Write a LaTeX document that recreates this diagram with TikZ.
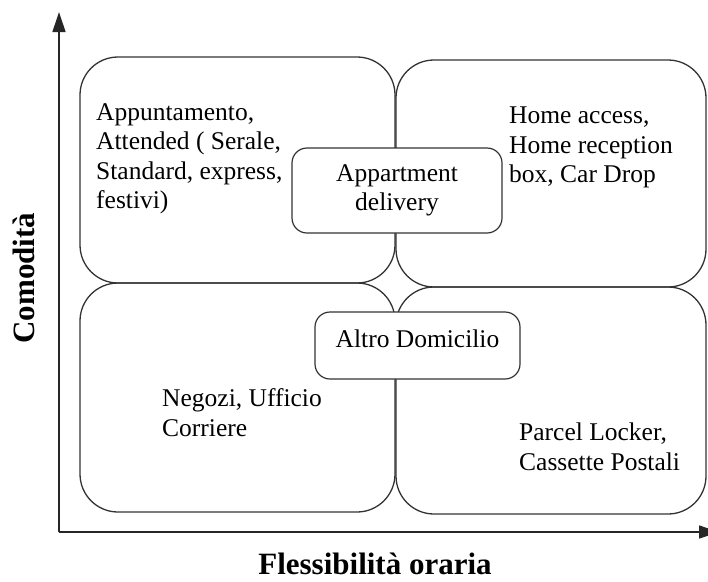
\documentclass[tikz,border=0pt]{standalone}
\usepackage{fontspec}
\setmainfont{Liberation Serif}
\usetikzlibrary{arrows.meta,positioning}

\tikzset{
  quad/.style={draw=black!80, line width=1.3pt, rounded corners=38pt},
  tag/.style={draw=black!80, fill=white, line width=1.2pt, rounded corners=15pt,
    align=center, inner sep=0pt, font=\fontsize{25.5}{29.5}\selectfont},
  txt/.style={align=left, inner sep=0pt, anchor=west, font=\fontsize{25.5}{29.5}\selectfont},
  axislabel/.style={font=\bfseries\fontsize{31}{36}\selectfont, inner sep=0pt},
  axis/.style={line width=1.3pt, draw=black!85, -{Triangle[width=13pt,length=20pt]}}
}

\begin{document}
\begin{tikzpicture}[x=1pt, y=-1pt]
    \useasboundingbox (0,0) rectangle (708,581);

    % Axes
    \coordinate (origin) at (59,532);
    \coordinate (ytop) at (59,12);
    \coordinate (xend) at (719,532);
    \draw [axis] (origin) -- (ytop);
    \draw [axis] (origin) -- (xend);
    \node [axislabel] (xlab) at (375,563.5) {Flessibilità oraria};
    \node [axislabel, rotate=90] (ylab) at (24,278) {Comodità};

    % Quadrants
    \draw [quad] (80,57) rectangle (395,283);
    \draw [quad] (396,60) rectangle (706,287);
    \draw [quad] (80,283) rectangle (395,512);
    \draw [quad] (396,287) rectangle (706,514);

    % Quadrant texts
    \node [txt] (tltext) at (96,159) {Appuntamento,\\Attended ( Serale,\\Standard, express,\\festivi)};
    \node [txt] (trtext) at (509,147.5) {Home access,\\Home reception\\box, Car Drop};
    \node [txt] (bltext) at (162,412.5) {Negozi, Ufficio\\Corriere};
    \node [txt] (brtext) at (519,447) {Parcel Locker,\\Cassette Postali};

    % Boxes on the borders
    \node [tag, minimum width=210pt, minimum height=85pt] (appart) at (397,190.5) {Appartment\\delivery};
    \node [tag, minimum width=205pt, minimum height=67pt] (altro) at (417.5,345.5) {};
    \node [txt, anchor=center] (altrotext) at ([yshift=6.5pt]altro.center) {Altro Domicilio};
\end{tikzpicture}
\end{document}
